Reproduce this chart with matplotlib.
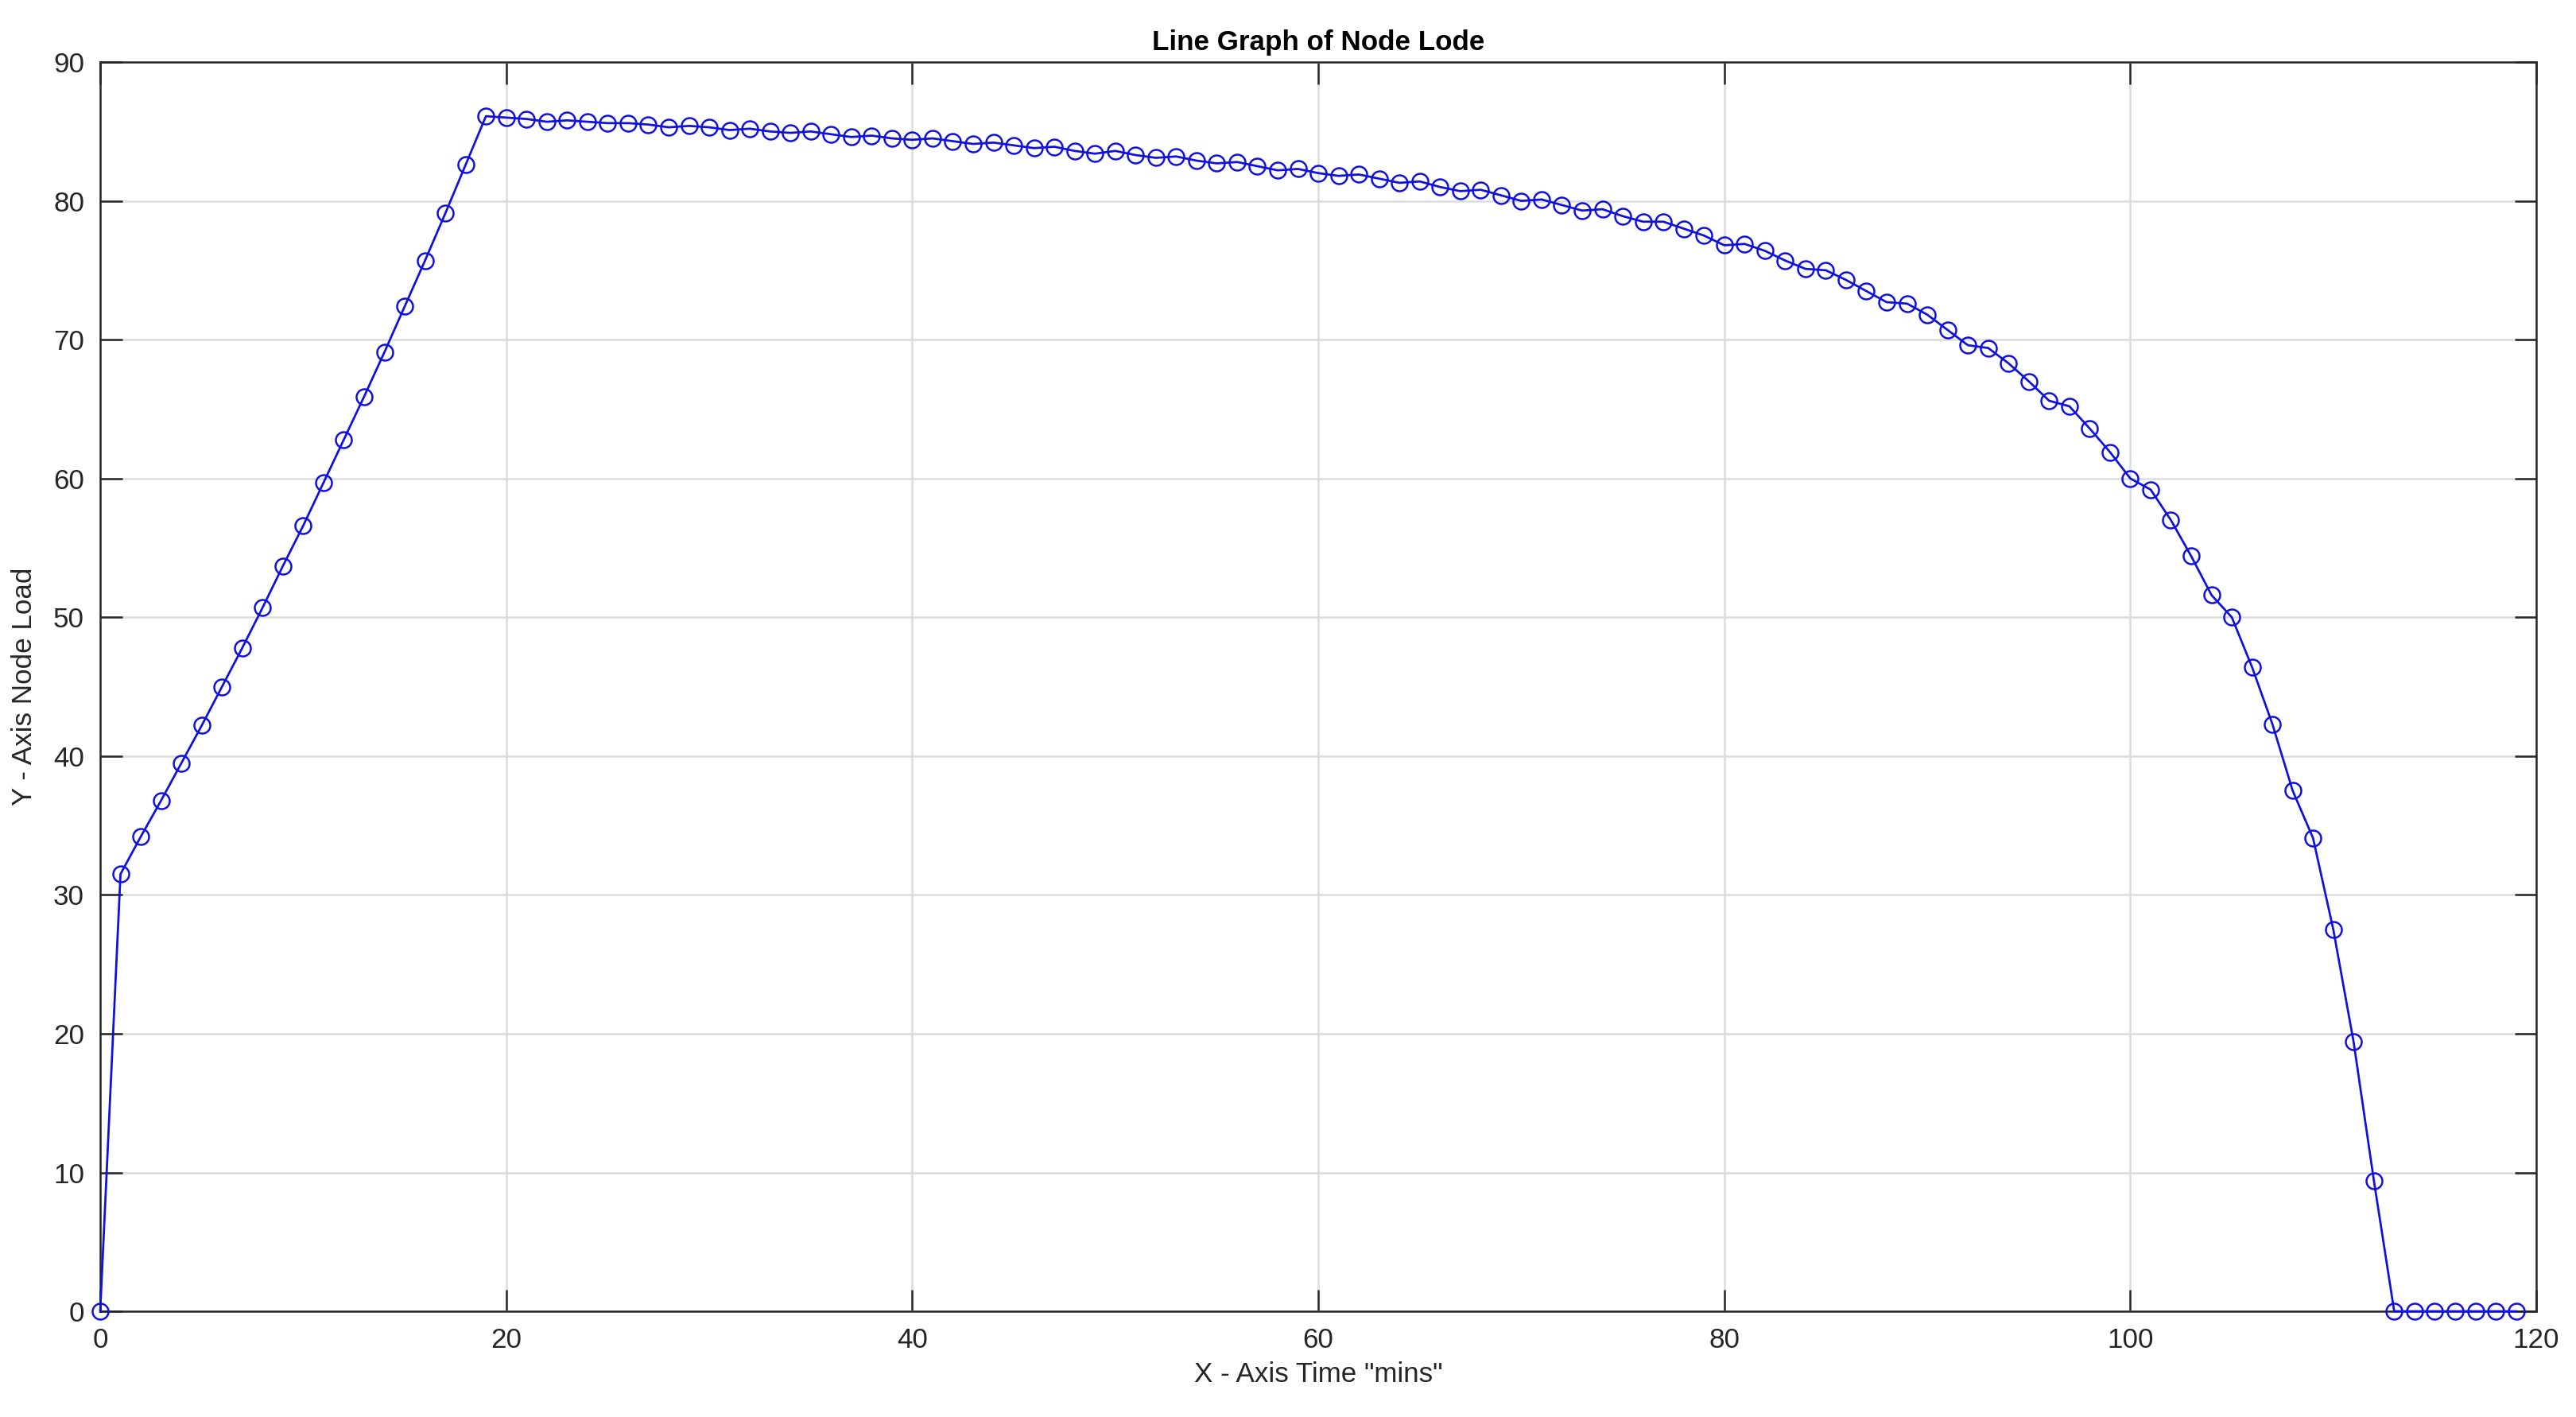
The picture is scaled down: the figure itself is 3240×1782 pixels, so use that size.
"""
Line graph of node load over time, MATLAB style.
"""
import matplotlib.pyplot as plt
import numpy as np

plt.rcParams['font.family'] = ['Liberation Sans', 'DejaVu Sans']

# time in minutes
minutes = np.arange(0, 120)

# node load
load_rise = [0.0, 31.5, 34.2, 36.8, 39.5, 42.2, 45.0, 47.8, 50.7, 53.7,
             56.6, 59.7, 62.8, 65.9, 69.1, 72.4, 75.7, 79.1, 82.6, 86.1]
load_plateau = [86.0, 85.9, 85.7, 85.8, 85.7, 85.6, 85.6, 85.5, 85.3, 85.4,
                85.3, 85.1, 85.2, 85.0, 84.9, 85.0, 84.8, 84.6, 84.7, 84.5,
                84.4, 84.5, 84.3, 84.1, 84.2, 84.0, 83.8, 83.9, 83.6, 83.4,
                83.6, 83.3, 83.1, 83.2, 82.9, 82.7, 82.8, 82.5, 82.2, 82.3]
load_decline = [82.0, 81.8, 81.9, 81.6, 81.3, 81.4, 81.0, 80.7, 80.8, 80.4,
                80.0, 80.1, 79.7, 79.3, 79.4, 78.9, 78.5, 78.5, 78.0, 77.5,
                76.8, 76.9, 76.4, 75.7, 75.1, 75.0, 74.3, 73.5, 72.7, 72.6,
                71.8, 70.7, 69.6, 69.4, 68.3, 67.0, 65.6, 65.2, 63.6, 61.9]
load_drop = [60.0, 59.2, 57.0, 54.4, 51.6, 50.0, 46.4, 42.3, 37.5, 34.1,
             27.5, 19.4, 9.4, 0.0, 0.0, 0.0, 0.0, 0.0, 0.0, 0.0]

load = np.array(load_rise + load_plateau + load_decline + load_drop)

fig = plt.figure(figsize=(18, 9.9), dpi=180)
ax = fig.add_axes([0.0389, 0.0746, 0.9457, 0.8816])

ax.plot(minutes, load, '-o', color='#1010e0', linewidth=1.1,
        markersize=8, markerfacecolor='none', markeredgewidth=1.0,
        clip_on=False, zorder=3)

ax.set_xlim(0, 120)
ax.set_ylim(0, 90)
ax.set_xticks(np.arange(0, 121, 20))
ax.set_yticks(np.arange(0, 91, 10))

ax.grid(True, color='#dcdcdc', linewidth=1.0)
ax.set_axisbelow(True)
ax.tick_params(direction='in', length=11, width=1.0, colors='#262626',
               labelsize=14, top=True, right=True, pad=8)
for s in ax.spines.values():
    s.set_color('#262626')
    s.set_linewidth(1.0)

ax.set_title('Line Graph of Node Lode', fontsize=14, fontweight='bold', pad=6)
ax.set_xlabel('X - Axis Time "mins"', fontsize=14, color='#262626', labelpad=4)
ax.set_ylabel('Y - Axis Node Load', fontsize=14, color='#262626', labelpad=8)

plt.savefig('out.png')
